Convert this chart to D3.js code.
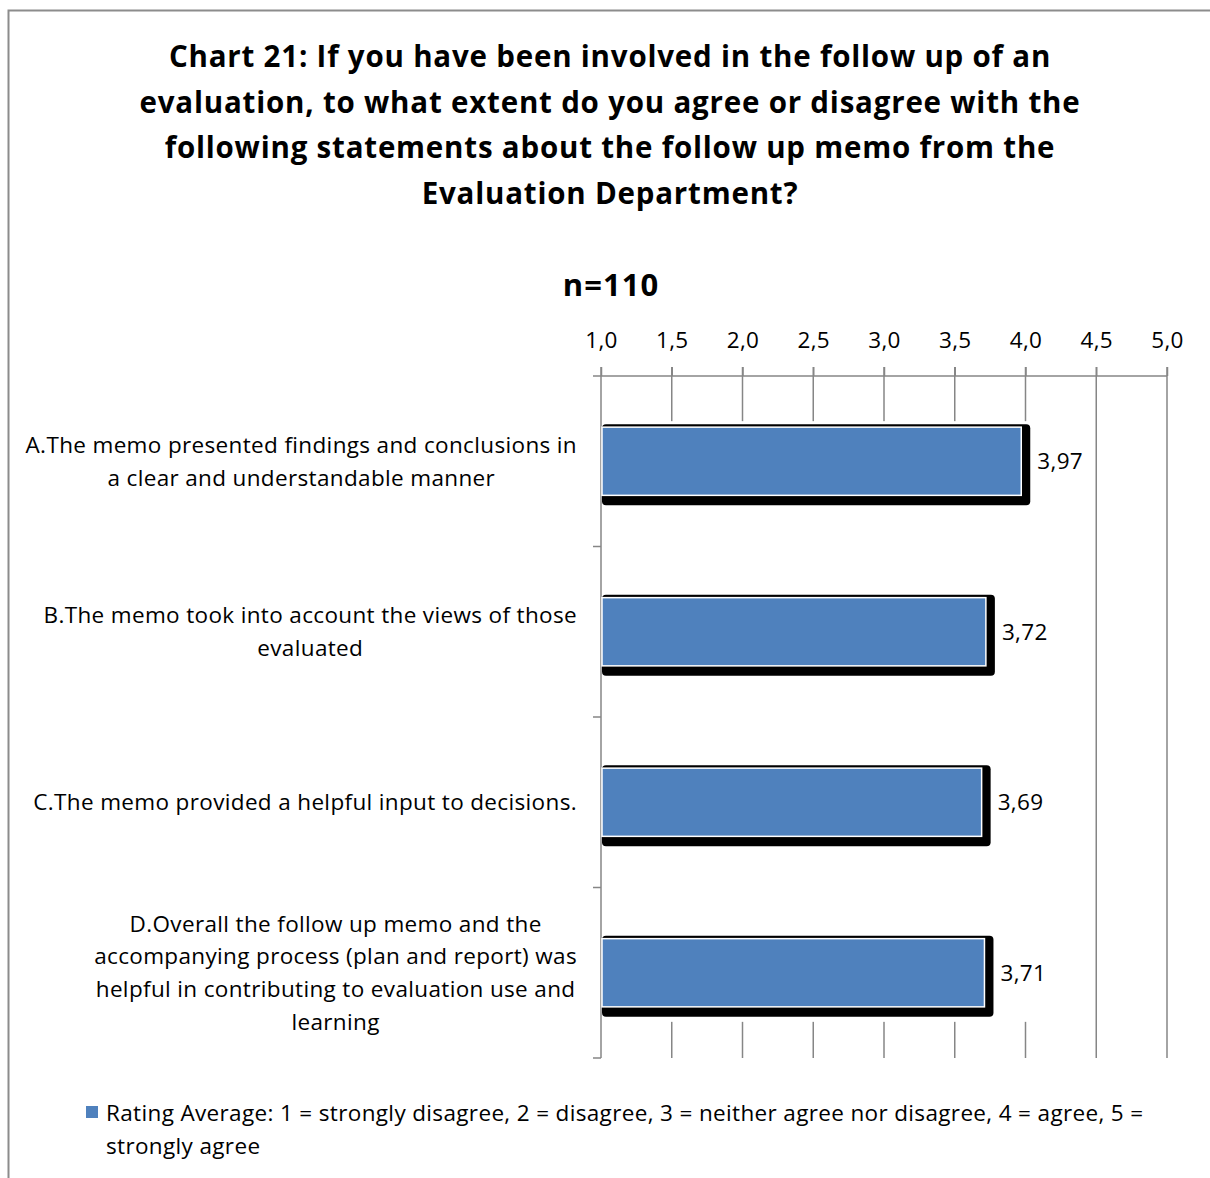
<!DOCTYPE html>
<html>
<head>
<meta charset="utf-8">
<script src="https://cdn.jsdelivr.net/npm/d3@7"></script>
<style>
  body { margin: 0; background: #fff; }
  svg { display: block; font-family: "Open Sans", sans-serif; }
</style>
</head>
<body>
<div id="chart"></div>
<script>
// chart data
const titleLines = [
  "Chart 21: If you have been involved in the follow up of an",
  "evaluation, to what extent do you agree or disagree with the",
  "following statements about the follow up memo from the",
  "Evaluation Department?"
];
const subtitle = "n=110";
const categories = [
  "A.The memo presented findings and conclusions in\na clear and understandable manner",
  "B.The memo took into account the views of those\nevaluated",
  "C.The memo provided a helpful input to decisions.",
  "D.Overall the follow up memo and the\naccompanying process (plan and report) was\nhelpful in contributing to evaluation use and\nlearning"
];
const values = [3.97, 3.72, 3.69, 3.71];
const xTicks = [1.0, 1.5, 2.0, 2.5, 3.0, 3.5, 4.0, 4.5, 5.0];
const legendLines = [
  "Rating Average: 1 = strongly disagree, 2 = disagree, 3 = neither agree nor disagree, 4 = agree, 5 =",
  "strongly agree"
];

const width = 1210, height = 1178;
const plot = { left: 601, right: 1167, top: 376, bottom: 1058 };
const gridColor = "#868686";
const barColor = "#4f81bd";
const fontFamily = "\"Open Sans\", sans-serif";
const labelSize = 22.5;
const labelSpacing = 0.35;
const fmt = (v, d) => v.toFixed(d).replace(".", ",");

const svg = d3.select("#chart").append("svg")
  .attr("width", width)
  .attr("height", height);

// outer frame (runs off the right and bottom edge like the screenshot)
svg.append("rect")
  .attr("x", 8.5).attr("y", 10.5)
  .attr("width", 1400).attr("height", 1400)
  .attr("fill", "none")
  .attr("stroke", "#8c8c8c")
  .attr("stroke-width", 2);

// title
svg.append("text")
  .attr("text-anchor", "middle")
  .attr("font-size", 29.5)
  .attr("font-weight", "bold")
  .attr("letter-spacing", 0.8)
  .selectAll("tspan")
  .data(titleLines)
  .join("tspan")
  .attr("x", 610)
  .attr("y", 67)
  .attr("y", (d, i) => 67 + i * 45.5)
  .text((d) => d);

svg.append("text")
  .attr("x", 611).attr("y", 296)
  .attr("text-anchor", "middle")
  .attr("font-size", 31)
  .attr("font-weight", "bold")
  .attr("letter-spacing", 1)
  .text(subtitle);

// scales
const x = d3.scaleLinear().domain([1, 5]).range([plot.left, plot.right]);
const y = d3.scaleBand()
  .domain(categories)
  .range([plot.top, plot.bottom])
  .paddingInner(0.6)
  .paddingOuter(0.3);

const shadow = { top: 3, right: 9, bottom: 10 };

// gridlines
svg.append("g")
  .selectAll("line")
  .data(xTicks.slice(1))
  .join("line")
  .attr("x1", (d) => x(d)).attr("x2", (d) => x(d))
  .attr("y1", plot.top - 9).attr("y2", plot.bottom)
  .attr("stroke", gridColor)
  .attr("stroke-width", 1.5);

// the gridlines are hidden in the band area behind the bars
const firstTop = y(categories[0]) - shadow.top - 3;
const lastBottom = y(categories[categories.length - 1]) + y.bandwidth() + shadow.bottom + 5;
svg.append("rect")
  .attr("x", x(1) + 1)
  .attr("y", firstTop)
  .attr("width", x(d3.max(values)) + shadow.right + 2 - x(1))
  .attr("height", lastBottom - firstTop)
  .attr("fill", "#fff");

// top axis
const xAxis = svg.append("g")
  .attr("transform", `translate(0,${plot.top})`)
  .call(d3.axisTop(x).tickValues(xTicks).tickSize(9).tickSizeOuter(0).tickPadding(19).tickFormat((d) => fmt(d, 1)));
xAxis.select(".domain").attr("stroke", gridColor).attr("stroke-width", 1.5)
  .attr("d", `M${plot.left - 8},0H${plot.right}`);
xAxis.selectAll(".tick line").attr("stroke", gridColor).attr("stroke-width", 1.5);
xAxis.selectAll(".tick text")
  .attr("font-size", labelSize)
  .attr("font-family", fontFamily)
  .attr("letter-spacing", labelSpacing)
  .attr("fill", "#000");

// left axis line with ticks at category boundaries
svg.append("line")
  .attr("x1", plot.left).attr("x2", plot.left)
  .attr("y1", plot.top - 9).attr("y2", plot.bottom)
  .attr("stroke", gridColor).attr("stroke-width", 1.5);
svg.append("g")
  .selectAll("line")
  .data(categories)
  .join("line")
  .attr("x1", plot.left - 8).attr("x2", plot.left)
  .attr("y1", (d) => y(d) - y.step() * y.paddingInner() / 2 + y.step())
  .attr("y2", (d) => y(d) - y.step() * y.paddingInner() / 2 + y.step())
  .attr("stroke", gridColor).attr("stroke-width", 1.5);

// bars: black depth shape, then the blue face
const bars = svg.append("g");
bars.selectAll("rect.depth")
  .data(values)
  .join("rect")
  .attr("class", "depth")
  .attr("x", x(1) + 1)
  .attr("y", (d, i) => y(categories[i]) - shadow.top)
  .attr("width", (d) => x(d) - x(1) + shadow.right - 1)
  .attr("height", y.bandwidth() + shadow.top + shadow.bottom)
  .attr("rx", 4)
  .attr("fill", "#000");
bars.selectAll("rect.face")
  .data(values)
  .join("rect")
  .attr("class", "face")
  .attr("x", x(1) + 1)
  .attr("y", (d, i) => y(categories[i]))
  .attr("width", (d) => x(d) - x(1) - 1)
  .attr("height", y.bandwidth())
  .attr("fill", barColor)
  .attr("stroke", "#fff")
  .attr("stroke-width", 1.5);

// value labels
svg.append("g")
  .selectAll("text")
  .data(values)
  .join("text")
  .attr("x", (d) => x(d) + shadow.right + 7)
  .attr("y", (d, i) => y(categories[i]) + y.bandwidth() / 2 + 8)
  .attr("font-size", labelSize)
  .attr("letter-spacing", labelSpacing)
  .text((d) => fmt(d, 2));

// category labels, block right aligned, lines centred within it
const labelRight = 577;
const lineGap = 32.7;
categories.forEach((cat) => {
  const lines = cat.split("\n");
  const t = svg.append("text")
    .attr("font-size", labelSize)
    .attr("letter-spacing", labelSpacing)
    .attr("text-anchor", "middle");
  const cy = y(cat) + y.bandwidth() / 2;
  const spans = t.selectAll("tspan")
    .data(lines)
    .join("tspan")
    .attr("y", (d, i) => cy + 8 + (i - (lines.length - 1) / 2) * lineGap)
    .text((d) => d);
  let maxW = 0;
  spans.each(function () { maxW = Math.max(maxW, this.getComputedTextLength()); });
  spans.attr("x", labelRight - maxW / 2);
});

// legend
svg.append("rect")
  .attr("x", 86).attr("y", 1106)
  .attr("width", 12).attr("height", 12)
  .attr("fill", barColor);
svg.append("text")
  .attr("font-size", labelSize)
  .attr("letter-spacing", labelSpacing)
  .selectAll("tspan")
  .data(legendLines)
  .join("tspan")
  .attr("x", 106)
  .attr("y", (d, i) => 1121 + i * 33)
  .text((d) => d);
</script>
</body>
</html>
